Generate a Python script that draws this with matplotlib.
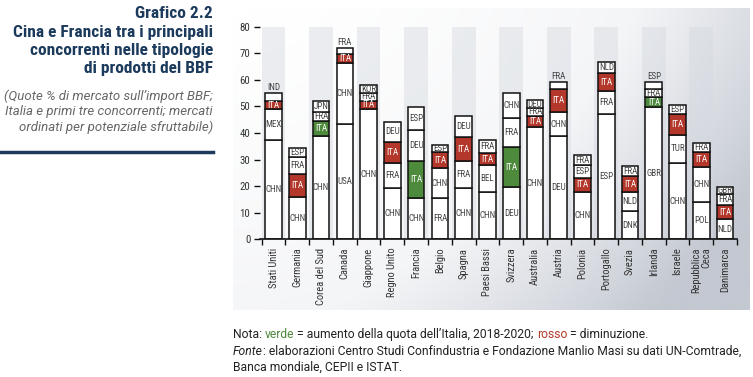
import numpy as np
import matplotlib.pyplot as plt
from matplotlib import font_manager
from matplotlib.colors import LinearSegmentedColormap

# mercati (ordinati per potenziale sfruttabile)
countries = ["Stati Uniti", "Germania", "Corea del Sud", "Canada", "Giappone",
             "Regno Unito", "Francia", "Belgio", "Spagna", "Paesi Bassi",
             "Svizzera", "Australia", "Austria", "Polonia", "Portogallo",
             "Svezia", "Irlanda", "Israele", "Repubblica\nCeca", "Danimarca"]

# segmenti dal basso verso l'alto
seg_labels = [
    ["CHN", "MEX", "ITA", "IND"],
    ["CHN", "ITA", "FRA", "ESP"],
    ["CHN", "ITA", "FRA", "JPN"],
    ["USA", "CHN", "ITA", "FRA"],
    ["CHN", "ITA", "FRA", "KOR"],
    ["CHN", "FRA", "ITA", "DEU"],
    ["CHN", "ITA", "DEU", "ESP"],
    ["FRA", "CHN", "ITA", "ESP"],
    ["CHN", "FRA", "ITA", "DEU"],
    ["CHN", "BEL", "ITA", "FRA"],
    ["DEU", "ITA", "FRA", "CHN"],
    ["CHN", "ITA", "FRA", "DEU"],
    ["DEU", "CHN", "ITA", "FRA"],
    ["CHN", "ITA", "ESP", "FRA"],
    ["ESP", "FRA", "ITA", "NLD"],
    ["DNK", "NLD", "ITA", "FRA"],
    ["GBR", "ITA", "FRA", "ESP"],
    ["CHN", "TUR", "ITA", "ESP"],
    ["POL", "CHN", "ITA", "FRA"],
    ["NLD", "ITA", "FRA", "GBR"],
]
seg_values = [
    [37.2, 11.7, 3.2, 2.8],
    [15.8, 8.7, 6.3, 3.4],
    [38.7, 5.7, 3.6, 3.9],
    [43.5, 23.0, 3.1, 2.2],
    [49.0, 3.1, 3.0, 2.9],
    [19.2, 9.4, 7.9, 7.8],
    [15.4, 13.9, 11.7, 8.7],
    [15.4, 11.3, 6.0, 2.9],
    [19.2, 10.1, 9.1, 7.9],
    [17.7, 10.1, 4.6, 4.8],
    [19.6, 15.0, 10.9, 9.4],
    [42.1, 4.4, 3.0, 2.8],
    [38.7, 9.3, 8.7, 2.4],
    [17.7, 5.5, 4.6, 3.8],
    [47.0, 8.7, 6.7, 4.2],
    [10.5, 7.2, 6.0, 3.8],
    [49.7, 3.7, 3.3, 2.4],
    [28.6, 10.8, 7.6, 3.4],
    [13.9, 13.2, 5.6, 3.4],
    [7.5, 5.3, 4.1, 2.9],
]
# quota italiana in aumento 2018-2020
ita_up = [False, False, True, False, False, False, True, False, False, False,
          True, False, False, False, False, False, True, False, False, False]
# etichette del segmento piu' alto scritte sopra la barra
label_above = ["Stati Uniti", "Canada", "Austria", "Irlanda"]

RED = "#b3372b"
GREEN = "#4e8a3c"
NAVY = "#1b3a5c"
DARK = "#222222"


def first_font(names, default):
    for name in names:
        try:
            font_manager.findfont(name, fallback_to_default=False)
            return name
        except ValueError:
            pass
    return default


NARROW = first_font(["Roboto Condensed", "DejaVu Sans Condensed",
                     "Liberation Sans Narrow", "Arial Narrow"], "Roboto")

W, H = 753, 377
fig = plt.figure(figsize=(W / 100, H / 100), dpi=100)

# sfondo sfumato del pannello
bg = fig.add_axes([233 / W, 1 - 310 / H, (750 - 233) / W, (310 - 8) / H])
gx, gy = np.meshgrid(np.linspace(0, 1, 300), np.linspace(0, 1, 200))
grad = np.clip(0.75 * gx ** 1.6 + 0.45 * (1 - gy) ** 1.3, 0, 1)
cmap = LinearSegmentedColormap.from_list("bg", ["#ffffff", "#f4f5f7", "#c3c8d1"])
bg.imshow(grad, cmap=cmap, aspect="auto", extent=(0, 1, 0, 1), origin="lower")
bg.set_axis_off()

ax = fig.add_axes([260 / W, 1 - 239.3 / H, (737 - 260) / W, (239.3 - 26.7) / H])
ax.set_facecolor("none")
x = np.arange(len(countries))

for i in x:
    if i % 2 == 0:
        ax.axvspan(i - 0.5, i + 0.5, color="#d5d9e0", alpha=0.45, lw=0, zorder=0)

    bottom = 0
    n = len(seg_values[i])
    for j, (lab, val) in enumerate(zip(seg_labels[i], seg_values[i])):
        is_ita = lab == "ITA"
        fc = (GREEN if ita_up[i] else RED) if is_ita else "white"
        ax.bar(i, val, bottom=bottom, width=0.7, color=fc, edgecolor="#111111",
               lw=1.1, zorder=2)
        if j == n - 1 and countries[i] in label_above:
            ty, va = bottom + val + 0.6, "bottom"
        else:
            ty, va = bottom + val / 2, "center"
        ax.text(i, ty, lab, ha="center", va=va, fontsize=6.5,
                color="white" if is_ita else "#444444",
                family=NARROW, zorder=3)
        bottom += val

ax.set_xlim(-0.57, len(countries) - 0.5)
ax.set_ylim(0, 80)
ax.set_yticks(np.arange(0, 81, 10))
ax.set_xticks(x)
ax.set_xticklabels(countries, rotation=90, fontsize=7.6, family=NARROW,
                   color="#333333", linespacing=0.9, multialignment="right")
ax.set_xticks(np.arange(-0.5, len(countries), 1), minor=True)
ax.tick_params(axis="x", which="major", length=0, pad=6)
ax.tick_params(axis="x", which="minor", length=4, width=1, color="#111111")
ax.tick_params(axis="y", length=4, width=1, color="#111111", labelsize=7.8,
               labelcolor="#333333", pad=3)
for t in ax.get_yticklabels():
    t.set_family(NARROW)
for s in ["top", "right", "left"]:
    ax.spines[s].set_visible(False)
ax.spines["bottom"].set_linewidth(1.2)
ax.spines["bottom"].set_color("#111111")

# titolo e sottotitolo a sinistra
title_lines = ["Grafico 2.2", "Cina e Francia tra i principali",
               "concorrenti nelle tipologie", "di prodotti del BBF"]
title_texts = []
for k, line in enumerate(title_lines):
    title_texts.append(fig.text(213 / W, 1 - (14 + 18.3 * k) / H, line, ha="right",
                                va="center", fontsize=11.5, fontweight="bold",
                                color=NAVY, family=NARROW))
# adatta la dimensione del titolo alla larghezza della colonna di sinistra
renderer = fig.canvas.get_renderer()
wpx = title_texts[1].get_window_extent(renderer).width
title_fs = min(12.5, 11.5 * 203 / wpx)
for t in title_texts:
    t.set_fontsize(title_fs)

sub_lines = ["(Quote % di mercato sull\u2019import BBF;",
             "Italia e primi tre concorrenti; mercati",
             "ordinati per potenziale sfruttabile)"]
for k, line in enumerate(sub_lines):
    fig.text(213 / W, 1 - (96 + 15.5 * k) / H, line, ha="right", va="center",
             fontsize=9.5, style="italic", color="#666666", family="Roboto")
fig.add_artist(plt.Line2D([0, 213 / W], [1 - 152 / H, 1 - 152 / H],
                          color=NAVY, lw=2.5))

# note in basso
FS = 8.7
t = fig.text(233 / W, 1 - 341 / H, "Nota: ", fontsize=FS, color=DARK,
             family="Roboto", va="bottom")
for piece, col in [("verde", GREEN),
                   (" = aumento della quota dell\u2019Italia, 2018-2020; ", DARK),
                   ("rosso", RED), (" = diminuzione.", DARK)]:
    t = ax.annotate(piece, xy=(1, 0), xycoords=t, va="bottom", ha="left",
                    fontsize=FS, color=col, family="Roboto", annotation_clip=False)

t = fig.text(233 / W, 1 - 358 / H, "Fonte", fontsize=FS, color=DARK,
             family="Roboto", style="italic", va="bottom")
ax.annotate(": elaborazioni Centro Studi Confindustria e Fondazione Manlio Masi "
            "su dati UN-Comtrade,", xy=(1, 0), xycoords=t, va="bottom", ha="left",
            fontsize=FS, color=DARK, family="Roboto", annotation_clip=False)
fig.text(233 / W, 1 - 374 / H, "Banca mondiale, CEPII e ISTAT.", fontsize=FS,
         color=DARK, family="Roboto", va="bottom")

fig.savefig("out.png", dpi=100)
